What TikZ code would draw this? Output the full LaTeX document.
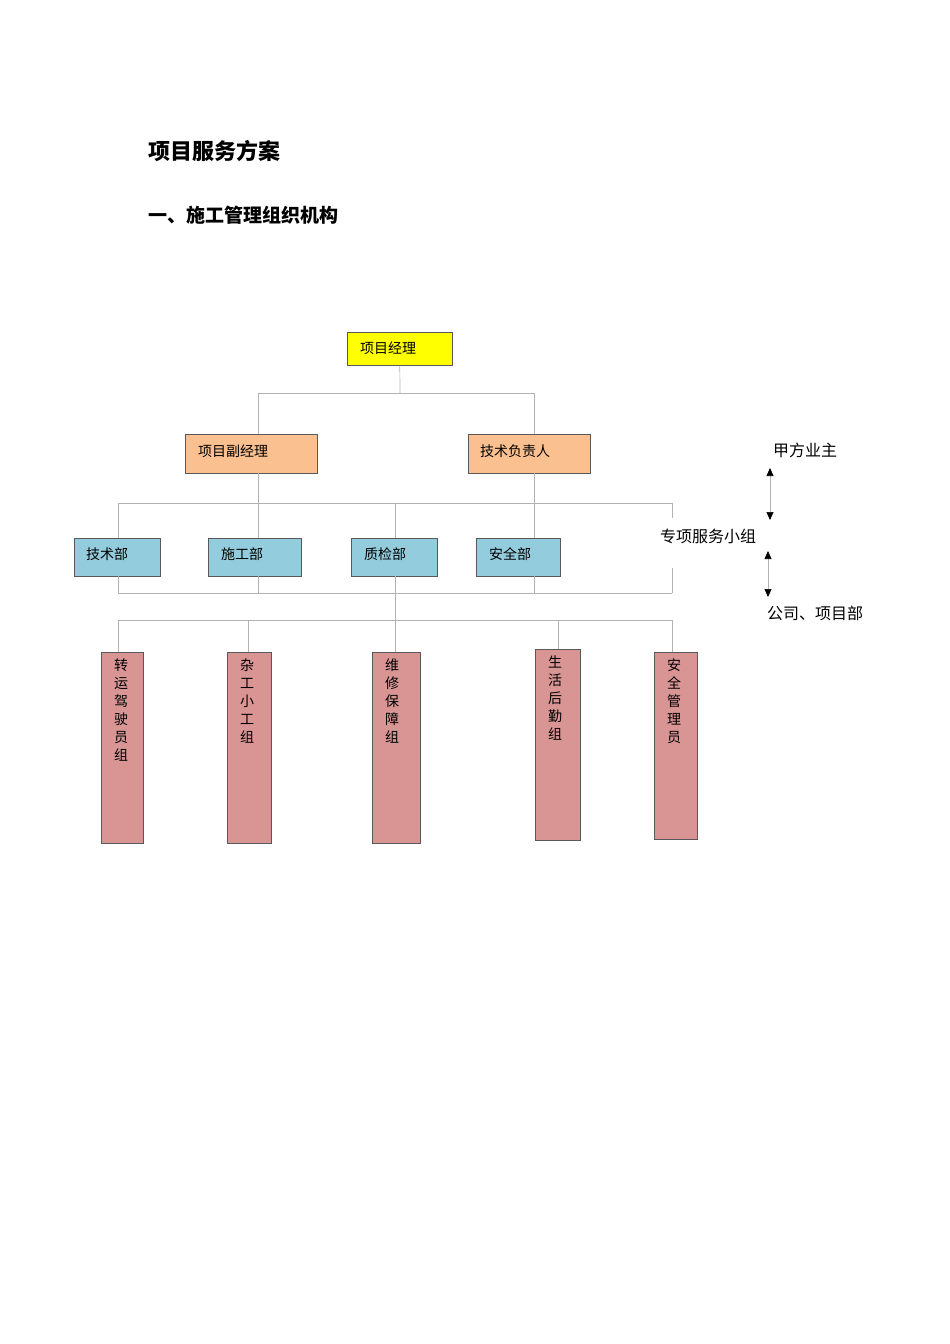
\documentclass[tikz,border=0pt]{standalone}
\usepackage{fontspec}
\newfontfamily\cjk{Noto Sans CJK SC}
\usetikzlibrary{arrows.meta}
\definecolor{yel}{HTML}{FFFF00}
\definecolor{ora}{HTML}{FAC090}
\definecolor{blu}{HTML}{93CDDD}
\definecolor{pnk}{HTML}{D99594}
\tikzset{
 box/.style={draw=gray!70!black,line width=0.6pt,inner sep=0pt,anchor=north west},
 ln/.style={draw=gray!60,line width=0.7pt},
 lbl/.style={font=\cjk\fontsize{14}{14}\selectfont,inner sep=0pt},
 vt/.style={font=\cjk\fontsize{14}{18}\selectfont,align=center,anchor=north,inner sep=0pt},
 arr/.style={draw=gray!60,line width=0.7pt,{Triangle[length=8pt,width=7pt,color=black]}-{Triangle[length=8pt,width=7pt,color=black]}}
}
\begin{document}
\begin{tikzpicture}[x=1pt,y=-1pt]
\useasboundingbox (0,0) rectangle (950,1344);
\node[anchor=west,font=\cjk\bfseries\fontsize{22}{22}\selectfont] (t1) at (145,151) {项目服务方案};
\node[anchor=west,font=\cjk\bfseries\fontsize{19}{19}\selectfont] (t2) at (145,215) {一、施工管理组织机构};
% top
\node[box,fill=yel,minimum width=105pt,minimum height=33pt] (pm) at (347,332) {};
\node[lbl,anchor=west] at (360,348) {项目经理};
\node[box,fill=ora,minimum width=132pt,minimum height=39pt] (dpm) at (185,434) {};
\node[lbl,anchor=west] at (198,451) {项目副经理};
\node[box,fill=ora,minimum width=122pt,minimum height=39pt] (tl) at (468,434) {};
\node[lbl,anchor=west] at (480,451) {技术负责人};
% blue
\node[box,fill=blu,minimum width=86pt,minimum height=38pt] (b1) at (74,538) {};
\node[lbl,anchor=west] at (86,554) {技术部};
\node[box,fill=blu,minimum width=93pt,minimum height=38pt] (b2) at (208,538) {};
\node[lbl,anchor=west] at (221,554) {施工部};
\node[box,fill=blu,minimum width=86pt,minimum height=38pt] (b3) at (351,538) {};
\node[lbl,anchor=west] at (364,554) {质检部};
\node[box,fill=blu,minimum width=84pt,minimum height=38pt] (b4) at (476,538) {};
\node[lbl,anchor=west] at (489,554) {安全部};
% pink
\node[box,fill=pnk,minimum width=42pt,minimum height=191pt] (p1) at (101,652) {};
\node[vt] at (121,659) {转\\运\\驾\\驶\\员\\组};
\node[box,fill=pnk,minimum width=44pt,minimum height=191pt] (p2) at (227,652) {};
\node[vt] at (247,659) {杂\\工\\小\\工\\组};
\node[box,fill=pnk,minimum width=48pt,minimum height=191pt] (p3) at (372,652) {};
\node[vt] at (392,659) {维\\修\\保\\障\\组};
\node[box,fill=pnk,minimum width=45pt,minimum height=191pt] (p4) at (535,649) {};
\node[vt] at (555,656) {生\\活\\后\\勤\\组};
\node[box,fill=pnk,minimum width=43pt,minimum height=187pt] (p5) at (654,652) {};
\node[vt] at (674,659) {安\\全\\管\\理\\员};
% connectors
\coordinate (ja) at (400,393);
\draw[ln] (pm.south) -- (ja);
\draw[ln] (258,393) -- (534,393);
\draw[ln] (258,393) -- (258,434);
\draw[ln] (534,393) -- (534,434);
\draw[ln] (118,503) -- (672,503);
\draw[ln] (258,473) -- (258,538);
\draw[ln] (534,473) -- (534,538);
\draw[ln] (118,503) -- (118,538);
\draw[ln] (395,503) -- (395,538);
\draw[ln] (672,503) -- (672,518);
\draw[ln] (672,568) -- (672,593);
\draw[ln] (118,576) -- (118,593);
\draw[ln] (258,576) -- (258,593);
\draw[ln] (534,576) -- (534,593);
\draw[ln] (395,576) -- (395,620);
\draw[ln] (118,593) -- (672,593);
\draw[ln] (118,620) -- (672,620);
\draw[ln] (118,620) -- (118,652);
\draw[ln] (248,620) -- (248,652);
\draw[ln] (395,620) -- (395,652);
\draw[ln] (558,620) -- (558,649);
\draw[ln] (672,620) -- (672,652);
% right side
\node[lbl,font=\cjk\fontsize{16}{16}\selectfont] (jf) at (805,450) {甲方业主};
\node[lbl,font=\cjk\fontsize{16}{16}\selectfont] (zx) at (708,536) {专项服务小组};
\node[lbl,font=\cjk\fontsize{16}{16}\selectfont] (gs) at (815,613) {公司、项目部};
\draw[arr] (770,468) -- (770,520);
\draw[arr] (768,551) -- (768,597);
\end{tikzpicture}
\end{document}
